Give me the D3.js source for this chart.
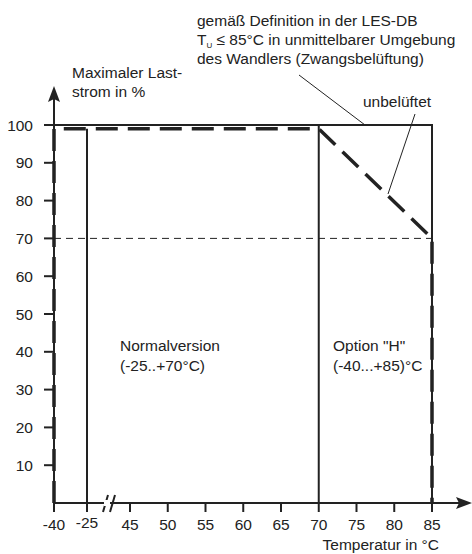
<!DOCTYPE html>
<html><head><meta charset="utf-8">
<script src="https://cdn.jsdelivr.net/npm/d3@7"></script>
<style>body{margin:0;background:#fff}text{font-family:"Liberation Sans",Arial,sans-serif;font-size:15.5px;fill:#222}</style>
</head><body><svg width="472" height="554"></svg>
<script>
const xTicks = [-40, -25, 45, 50, 55, 60, 65, 70, 75, 80, 85];
const yTicks = [10, 20, 30, 40, 50, 60, 70, 80, 90, 100];
// forced ventilation limit
const ventilated = [[-40, 100], [85, 100], [85, 0]];
// unventilated derating
const unventilated = [[-40, 0], [-40, 99], [70, 99], [85, 70], [85, 0]];
const versions = [-25, 70];

const svg = d3.select('svg');
const x = d3.scaleLinear().domain([-40, -25, 45, 85]).range([54, 87, 130, 432]);
const y = d3.scaleLinear().domain([0, 100]).range([503, 125]);
const line = d3.line().x(d => x(d[0])).y(d => y(d[1]));

// 70% reference
svg.append('line').attr('x1', x(-40)).attr('x2', x(85)).attr('y1', y(70)).attr('y2', y(70))
  .attr('stroke', '#222').attr('stroke-width', 1).attr('stroke-dasharray', '7,5');

versions.forEach(v => {
  svg.append('line').attr('x1', x(v)).attr('x2', x(v)).attr('y1', y(v === 70 ? 100 : 99)).attr('y2', y(0))
    .attr('stroke', '#222').attr('stroke-width', 2);
});

svg.append('path').attr('d', line(ventilated)).attr('fill', 'none')
  .attr('stroke', '#222').attr('stroke-width', 2);
svg.append('path').attr('d', line(unventilated)).attr('fill', 'none')
  .attr('stroke', '#222').attr('stroke-width', 3.5).attr('stroke-dasharray', '22,10');

// axes
const ax = svg.append('g').attr('stroke', '#222').attr('stroke-width', 2);
ax.append('line').attr('x1', 54).attr('x2', 462).attr('y1', y(0)).attr('y2', y(0));
ax.append('line').attr('x1', 54).attr('x2', 54).attr('y1', y(0)).attr('y2', 96);
svg.append('path').attr('d', 'M472,503 L456,497 L459,503 L456,509 Z').attr('fill', '#222');
svg.append('path').attr('d', 'M54,86 L48,102 L54,99 L60,102 Z').attr('fill', '#222');

yTicks.forEach(t => {
  ax.append('line').attr('x1', 44).attr('x2', 54).attr('y1', y(t)).attr('y2', y(t));
  svg.append('text').attr('x', 33).attr('y', y(t) + 5.5).attr('text-anchor', 'end').text(t);
});
xTicks.forEach(t => {
  ax.append('line').attr('x1', x(t)).attr('x2', x(t)).attr('y1', y(0)).attr('y2', y(0) + 9);
  svg.append('text').attr('x', x(t)).attr('y', t === -25 ? 528 : 530).attr('text-anchor', 'middle').text(t);
});
// axis break
svg.append('rect').attr('x', 104).attr('y', y(0) - 3).attr('width', 6).attr('height', 6).attr('fill', '#fff');
ax.append('line').attr('x1', 103).attr('x2', 108).attr('y1', 512).attr('y2', 495);
ax.append('line').attr('x1', 110).attr('x2', 115).attr('y1', 512).attr('y2', 495);

// labels
const t = (xx, yy, s, a) => svg.append('text').attr('x', xx).attr('y', yy).attr('text-anchor', a || 'start').text(s);
t(197, 26, 'gemäß Definition in der LES-DB');
const tu = svg.append('text').attr('x', 197).attr('y', 45);
tu.append('tspan').text('T');
tu.append('tspan').attr('font-size', '8px').attr('dy', 3).text('U');
tu.append('tspan').attr('dy', -3).text(' ≤ 85°C in unmittelbarer Umgebung');
t(197, 64, 'des Wandlers (Zwangsbelüftung)');
t(72, 78, 'Maximaler Last-');
t(72, 97, 'strom in %');
t(363, 107, 'unbelüftet');
t(120, 351, 'Normalversion');
t(120, 371, '(-25..+70°C)');
t(333, 351, 'Option "H"');
t(333, 371, '(-40...+85)°C');
t(439, 550, 'Temperatur in °C', 'end');

svg.append('line').attr('x1', 299).attr('y1', 75).attr('x2', 365).attr('y2', 125).attr('stroke', '#222');
svg.append('line').attr('x1', 415).attr('y1', 114).attr('x2', 388).attr('y2', 194).attr('stroke', '#222');
</script></body></html>
